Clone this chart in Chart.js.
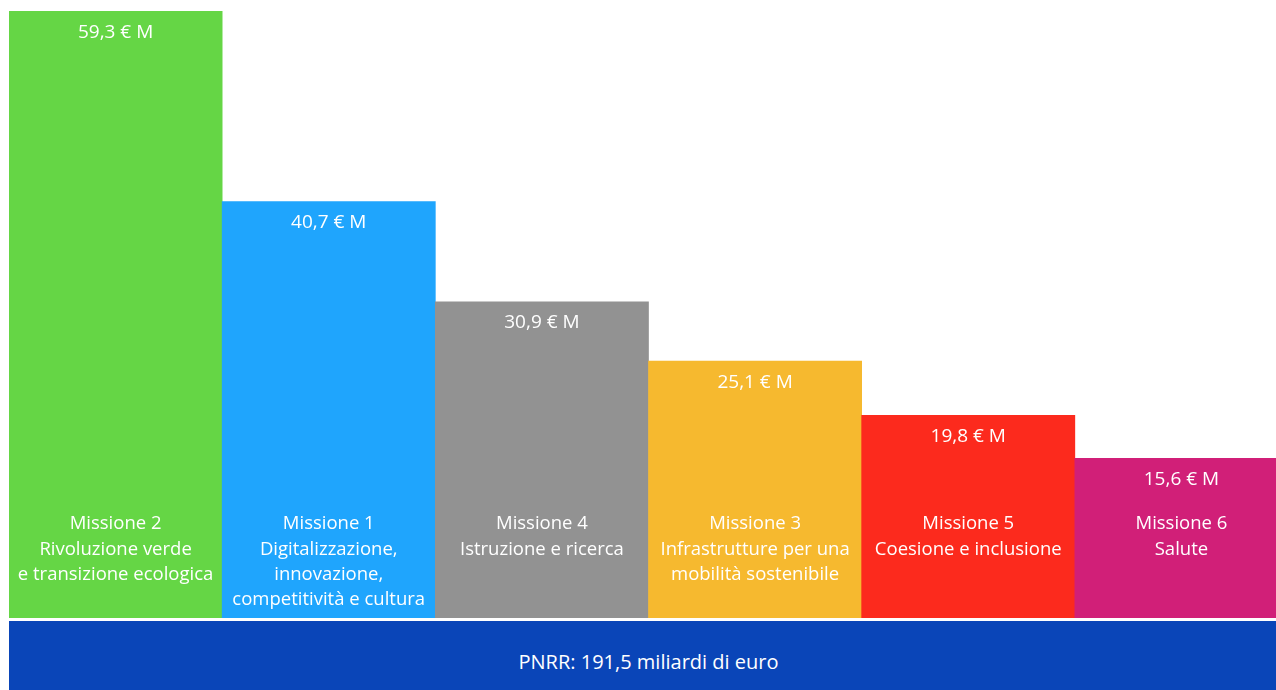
<!DOCTYPE html>
<html lang="it">
<head>
<meta charset="utf-8">
<title>PNRR – risorse per missione</title>
<script src="https://cdn.jsdelivr.net/npm/chart.js@4.4.1/dist/chart.umd.min.js"></script>
<style>
  html, body { margin: 0; padding: 0; background: #ffffff; overflow: hidden; }
  body { width: 1276px; height: 690px; position: relative; }
  #wrap { position: absolute; left: 9px; top: 0; width: 1279px; height: 618px; }
  #band {
    position: absolute; left: 9px; top: 621px; width: 1279px; height: 69px;
    box-sizing: border-box; padding-top: 11px;
    background: #0a45b8; color: #ffffff;
    font: 20px "Open Sans", sans-serif;
    display: flex; align-items: center; justify-content: center;
  }
</style>
</head>
<body>
<div id="wrap"><canvas id="missionChart"></canvas></div>
<div id="band"></div>

<script>
/* ── Data ── */
const missions   = ['Missione 2', 'Missione 1', 'Missione 4', 'Missione 3', 'Missione 5', 'Missione 6'];
const subtitles  = [
  ['Rivoluzione verde', 'e transizione ecologica'],
  ['Digitalizzazione,', 'innovazione,', 'competitività e cultura'],
  ['Istruzione e ricerca'],
  ['Infrastrutture per una', 'mobilità sostenibile'],
  ['Coesione e inclusione'],
  ['Salute']
];
const amounts    = [59.3, 40.7, 30.9, 25.1, 19.8, 15.6];   // miliardi di euro
const barColors  = ['#65d645', '#1fa5fd', '#929292', '#f6b92f', '#fc2a1d', '#d11f78'];
const totalLabel = 'PNRR: 191,5 miliardi di euro';

/* ── Format "59,3 € M" ── */
function formatAmount(v) {
  return v.toFixed(1).replace('.', ',') + ' € M';
}

/* ── Labels drawn inside the bars ── */
const barText = {
  id: 'barText',
  afterDatasetsDraw(chart) {
    const ctx  = chart.ctx;
    const meta = chart.getDatasetMeta(0);
    const area = chart.chartArea;
    ctx.save();
    ctx.fillStyle = '#ffffff';
    ctx.textAlign = 'center';
    ctx.textBaseline = 'middle';
    meta.data.forEach((bar, i) => {
      ctx.font = '19px "Open Sans", sans-serif';
      ctx.fillText(formatAmount(amounts[i]), bar.x, bar.y + 21);
      ctx.font = '18.5px "Open Sans", sans-serif';
      const lines = [missions[i]].concat(subtitles[i]);
      lines.forEach((line, j) => {
        ctx.fillText(line, bar.x, area.bottom - 94 + j * 25.4);
      });
    });
    ctx.restore();
  }
};

/* ── Chart ── */
const chart = new Chart(document.getElementById('missionChart'), {
  type: 'bar',
  data: {
    labels: missions,
    datasets: [{
      data: amounts,
      backgroundColor: barColors,
      borderWidth: 0,
      barPercentage: 1,
      categoryPercentage: 1
    }]
  },
  options: {
    responsive: true,
    maintainAspectRatio: false,
    animation: false,
    layout: { padding: 0 },
    plugins: {
      legend: { display: false },
      tooltip: { enabled: false }
    },
    scales: {
      x: { display: false },
      y: { display: false, min: 0, max: 60.4 }
    }
  },
  plugins: [barText]
});

document.getElementById('band').textContent = totalLabel;
</script>
</body>
</html>
